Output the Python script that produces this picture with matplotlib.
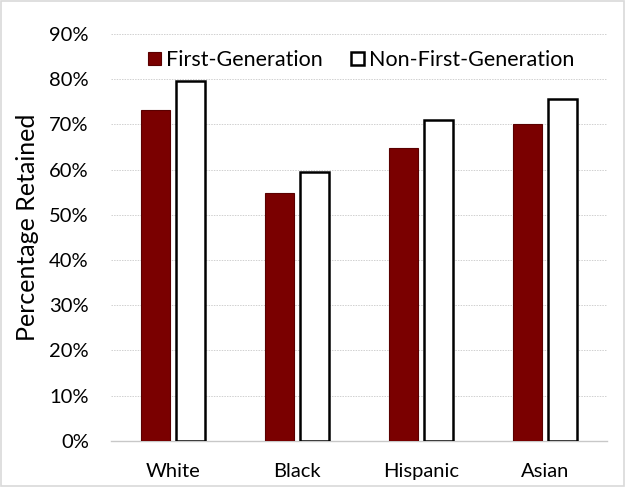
#!/usr/bin/env python3

# Retention by race/ethnicity, first-generation vs non-first-generation

import numpy as np
import matplotlib
matplotlib.use("Agg")
import matplotlib.pyplot as plt
from matplotlib.ticker import PercentFormatter

categories = ["White", "Black", "Hispanic", "Asian"]
first_gen = [73.2, 54.9, 64.8, 70.2]
non_first_gen = [79.7, 59.5, 70.9, 75.6]
series_labels = ["First-Generation", "Non-First-Generation"]

plt.rcParams["font.family"] = ["Lato", "DejaVu Sans"]

fig = plt.figure(figsize=(6.25, 4.87), dpi=100)
ax = fig.add_axes([0.1776, 0.095, 0.7936, 0.835])

x = np.arange(len(categories))
width = 0.23
gap = 0.05
ax.bar(x - (width + gap) / 2, first_gen, width, color="#7a0000",
       edgecolor="#5a0000", linewidth=0.8, label=series_labels[0], zorder=3)
ax.bar(x + (width + gap) / 2, non_first_gen, width, color="white",
       edgecolor="black", linewidth=1.8, label=series_labels[1], zorder=3)

ax.set_xlim(-0.5, len(categories) - 0.5)
ax.set_ylim(0, 90)
ax.set_yticks(np.arange(0, 91, 10))
ax.yaxis.set_major_formatter(PercentFormatter(decimals=0))
ax.set_xticks(x)
ax.set_xticklabels(categories)
ax.tick_params(axis="both", length=0, labelsize=14.5, colors="black")
ax.tick_params(axis="x", pad=16)
ax.tick_params(axis="y", pad=16)
ax.set_ylabel("Percentage Retained", fontsize=18)
ax.yaxis.set_label_coords(-0.145, 0.526)

ax.yaxis.grid(True, color="#d0d0d0", linestyle=(0, (1.5, 1.2)), linewidth=0.7, zorder=0)
for s in ["top", "right", "left"]:
    ax.spines[s].set_visible(False)
ax.spines["bottom"].set_color("#c8c8c8")
ax.spines["bottom"].set_linewidth(1.0)

ax.legend(loc="center", bbox_to_anchor=(0.505, 0.936), ncol=2, frameon=False,
          fontsize=15.5, handlelength=0.6, handleheight=0.6,
          handletextpad=0.25, columnspacing=1.3)

# light border around the whole picture
fig.patches.append(plt.Rectangle((0.002, 0.002), 0.996, 0.996, transform=fig.transFigure,
                                 fill=False, edgecolor="#d9d9d9", linewidth=1.2))

fig.savefig("out.png", dpi=100)
